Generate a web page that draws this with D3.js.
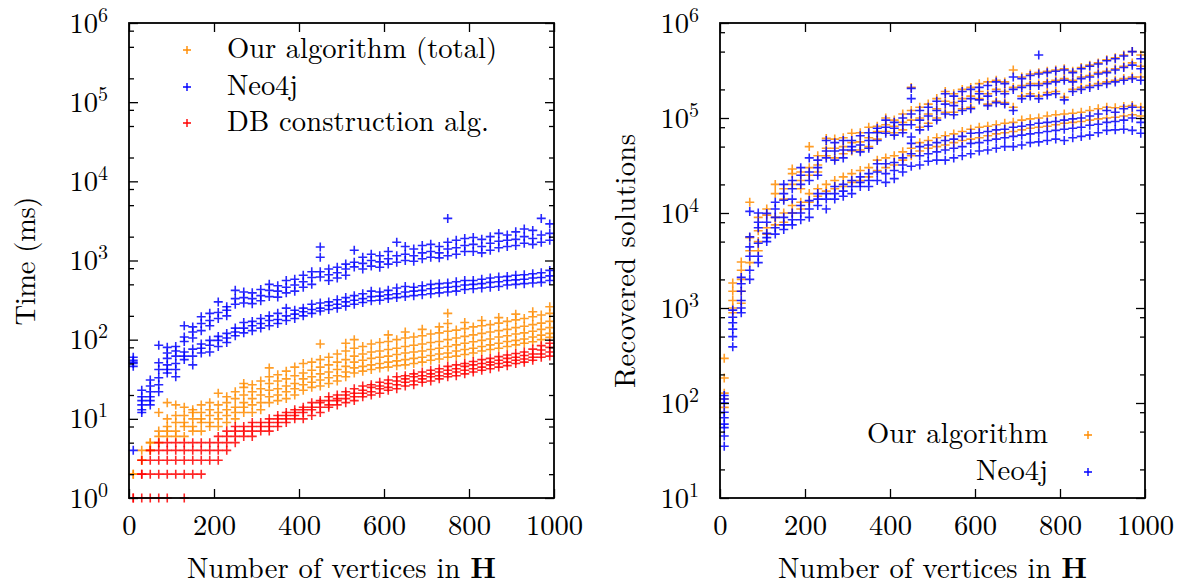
<!DOCTYPE html>
<html>
<head>
<meta charset="utf-8">
<script src="https://cdn.jsdelivr.net/npm/d3@7"></script>
<style>
	body { margin: 0; background: #fff; }
</style>
</head>
<body>
<div id="chart-area"></div>
<script>
// Data
// ****
const sizes = [10, 30, 50, 70, 90, 110, 130, 150, 170, 190, 210, 230, 250, 270, 290, 310, 330, 350, 370, 390,
	410, 430, 450, 470, 490, 510, 530, 550, 570, 590, 610, 630, 650, 670, 690, 710, 730, 750, 770, 790,
	810, 830, 850, 870, 890, 910, 930, 950, 970, 990]

const xTicks = [0, 200, 400, 600, 800, 1000]

// time in ms, one row per size
const oursTime = [
	[2, 2], [3, 4, 3], [4, 5, 4, 5], [5, 6, 7, 12], [6, 7, 8, 10, 16],
	[6, 7, 9, 11, 15], [6, 8, 9, 11, 14], [7, 8, 10, 12, 13], [7, 9, 10, 12, 15], [8, 9, 11, 13, 16],
	[8, 10, 12, 15, 21], [9, 11, 13, 16, 19], [10, 12, 14, 18, 22], [12, 14, 16, 20, 25, 28], [12, 15, 18, 22, 27],
	[13, 16, 20, 24, 30], [16, 19, 23, 28, 34, 44], [17, 20, 24, 30, 36], [18, 22, 26, 32, 40], [20, 24, 28, 35, 45],
	[23, 27, 32, 38, 50], [25, 29, 34, 41, 52], [26, 31, 37, 45, 56, 88], [28, 33, 39, 48, 60], [30, 35, 42, 52, 66],
	[34, 39, 46, 56, 72, 90], [38, 44, 52, 62, 78, 100], [40, 46, 55, 66, 82], [42, 48, 58, 70, 88], [44, 50, 60, 72, 92],
	[45, 52, 62, 75, 95, 115], [47, 54, 65, 78, 100], [48, 56, 68, 82, 105, 125], [50, 58, 70, 85, 108], [52, 60, 72, 88, 112, 135],
	[55, 63, 75, 92, 118], [57, 66, 78, 95, 122, 145], [60, 68, 82, 100, 128, 160, 215], [62, 72, 86, 105, 132], [65, 75, 90, 110, 138, 165],
	[68, 78, 94, 115, 145], [72, 82, 98, 120, 150, 175], [75, 86, 102, 125, 155], [78, 90, 108, 130, 162, 190], [82, 95, 112, 135, 170],
	[86, 98, 118, 142, 178, 210], [90, 102, 122, 148, 185], [94, 108, 128, 155, 195, 225], [100, 114, 135, 162, 205], [107, 120, 142, 170, 215, 260]
]

const neo4jTime = [
	[60, 55, 52, 50, 46, 4], [23, 19, 17, 15, 13, 12], [31, 26, 22, 19, 17, 15], [85, 51, 42, 33, 27, 22], [80, 68, 58, 48, 42, 38],
	[82, 72, 62, 50, 42, 34], [150, 108, 95, 70, 62, 56], [145, 125, 105, 76, 62, 48], [195, 160, 130, 88, 78, 68], [215, 175, 150, 98, 85, 70],
	[300, 220, 185, 110, 98, 82], [260, 235, 200, 120, 105, 92], [420, 330, 280, 140, 125, 112], [400, 340, 290, 165, 140, 122], [390, 330, 285, 170, 150, 130],
	[430, 360, 310, 185, 160, 140], [500, 420, 350, 200, 175, 150], [480, 410, 345, 215, 180, 160], [560, 460, 390, 250, 200, 175], [580, 490, 410, 235, 210, 185],
	[650, 540, 460, 250, 225, 200], [720, 610, 500, 280, 240, 215], [1480, 1100, 720, 620, 290, 250, 230], [780, 660, 560, 300, 270, 240], [820, 700, 600, 320, 280, 250],
	[900, 780, 650, 340, 300, 265], [1350, 950, 830, 360, 315, 280], [1100, 920, 780, 380, 330, 295], [1200, 1000, 850, 410, 350, 310], [1150, 960, 820, 400, 355, 315],
	[1300, 1050, 900, 420, 370, 330], [1700, 1150, 950, 450, 380, 340], [1500, 1200, 1000, 470, 400, 350], [1400, 1150, 980, 460, 410, 360], [1550, 1250, 1050, 480, 420, 370],
	[1600, 1300, 1100, 500, 440, 380], [1500, 1250, 1080, 510, 450, 390], [3400, 1700, 1400, 1150, 520, 460, 400], [1800, 1450, 1200, 540, 470, 410], [1900, 1550, 1300, 560, 490, 430],
	[1950, 1600, 1300, 560, 500, 440], [1850, 1500, 1250, 580, 510, 450], [2000, 1650, 1350, 600, 530, 460], [2200, 1750, 1450, 620, 540, 470], [2100, 1800, 1500, 630, 560, 490],
	[2300, 1850, 1550, 650, 570, 500], [2500, 2000, 1650, 660, 580, 510], [2400, 1900, 1600, 680, 600, 520], [3400, 2100, 1700, 700, 610, 530], [2900, 2200, 1800, 750, 640, 560]
]

const dbTime = [
	[1, 1], [1, 2, 3, 2], [1, 2, 3, 4], [1, 2, 4, 5, 3], [1, 2, 3, 5, 4],
	[2, 3, 4, 5], [1, 2, 4, 5, 3], [2, 3, 5, 4], [2, 3, 4, 5], [3, 4, 5],
	[3, 4, 5, 6], [4, 5, 6, 7], [5, 6, 7, 8], [6, 7, 8], [6, 7, 8, 9],
	[7, 8, 9], [7, 8, 9, 10], [8, 9, 10, 11], [9, 10, 11, 12], [10, 11, 12, 13],
	[10, 12, 13, 14], [11, 13, 14, 16], [12, 14, 16, 17], [14, 15, 17, 19], [15, 17, 18, 20],
	[16, 18, 20, 22], [17, 19, 21, 24], [19, 21, 23, 26], [20, 22, 25, 27], [21, 24, 26, 29],
	[23, 25, 28, 31], [24, 27, 30, 34], [26, 29, 32, 35], [27, 30, 34, 37], [29, 32, 35, 39],
	[30, 34, 37, 41], [32, 35, 39, 43], [34, 37, 41, 46], [35, 39, 43, 48], [37, 41, 46, 50],
	[39, 43, 48, 53], [41, 45, 50, 56], [43, 48, 52, 58], [45, 50, 55, 61], [47, 52, 58, 64],
	[50, 55, 60, 67], [52, 57, 63, 70], [55, 60, 66, 76], [60, 66, 74, 84], [62, 70, 80, 90]
]

// recovered solutions, one row per size
const oursSolutions = [
	[295, 183, 127, 110, 90], [1830, 1500, 1200, 1000, 890], [3050, 2500, 2000, 1500, 1120], [13000, 5500, 4000, 3000], [9000, 6500, 5000, 4000],
	[11000, 9500, 7000, 6000], [20000, 16000, 9000, 7500], [18000, 14000, 10000, 8000], [29000, 26000, 20000, 12000, 10000], [27000, 22000, 18000, 13000, 11000],
	[50000, 30000, 25000, 16000, 13000], [40000, 32000, 27000, 18000, 15000], [61000, 48000, 40000, 20000, 17000], [60000, 48000, 38000, 22000, 18000], [62000, 50000, 42000, 24000, 19000],
	[69000, 55000, 45000, 26000, 21000], [70000, 56000, 46000, 28000, 22000], [80000, 62000, 50000, 30000, 24000], [82000, 72000, 60000, 36000, 28000], [100000, 85000, 72000, 38000, 30000],
	[95000, 82000, 70000, 40000, 32000], [110000, 90000, 75000, 44000, 36000], [210000, 120000, 95000, 48000, 40000], [130000, 100000, 80000, 55000, 45000], [140000, 110000, 88000, 58000, 48000],
	[160000, 125000, 100000, 62000, 50000], [190000, 150000, 115000, 65000, 52000], [180000, 145000, 115000, 68000, 55000], [200000, 160000, 125000, 72000, 58000], [210000, 170000, 130000, 76000, 60000],
	[230000, 190000, 160000, 80000, 62000], [240000, 180000, 140000, 82000, 65000], [250000, 200000, 150000, 85000, 68000], [240000, 190000, 145000, 88000, 70000], [320000, 210000, 130000, 90000, 72000],
	[270000, 220000, 170000, 95000, 75000], [290000, 230000, 180000, 98000, 78000], [300000, 230000, 170000, 100000, 80000], [310000, 240000, 185000, 105000, 82000], [320000, 250000, 190000, 108000, 85000],
	[330000, 260000, 165000, 110000, 88000], [310000, 250000, 200000, 112000, 90000], [340000, 270000, 210000, 115000, 92000], [360000, 280000, 220000, 120000, 95000], [380000, 300000, 230000, 125000, 98000],
	[410000, 310000, 240000, 130000, 100000], [430000, 330000, 250000, 128000, 102000], [460000, 350000, 260000, 132000, 105000], [500000, 380000, 270000, 135000, 108000], [460000, 350000, 270000, 130000, 105000]
]

const neo4jSolutions = [
	[120, 110, 100, 80, 70, 60, 55, 45, 35], [950, 800, 700, 600, 500, 390], [2100, 1800, 1500, 1200, 1000, 890], [10400, 5600, 4400, 3500, 2500, 2000], [10000, 8000, 7000, 4800, 3500, 3000],
	[9900, 8000, 6100, 5500, 5000], [13000, 11000, 9000, 7000, 6000], [20000, 16000, 13600, 9000, 7500, 6700], [22000, 18000, 14000, 10000, 8500, 7500], [30000, 25000, 20000, 12000, 10000, 8500],
	[38000, 27000, 22000, 13500, 11000, 9000], [36000, 30000, 25000, 16000, 14000, 12000], [58000, 45000, 38000, 16000, 14000, 11000], [55000, 45000, 36000, 19000, 16000, 14000], [58000, 46000, 38000, 20000, 17000, 15000],
	[58000, 50000, 46000, 22000, 19000, 16000], [65000, 52000, 44000, 24000, 21000, 19000], [70000, 58000, 48000, 26000, 22000, 19000], [78000, 70000, 58000, 33000, 27000, 22000], [95000, 80000, 69000, 33000, 26000, 21000],
	[90000, 78000, 66000, 34000, 28000, 23000], [100000, 85000, 70000, 38000, 32000, 27000], [205000, 160000, 110000, 85000, 63000, 54000, 42000, 31000], [120000, 95000, 75000, 50000, 40000, 32000], [130000, 105000, 82000, 52000, 42000, 35000],
	[150000, 120000, 95000, 55000, 44000, 36000], [180000, 140000, 110000, 58000, 46000, 36000], [170000, 135000, 108000, 60000, 48000, 38000], [190000, 150000, 120000, 64000, 50000, 40000], [200000, 160000, 125000, 69000, 54000, 42000],
	[210000, 180000, 155000, 70000, 55000, 45000], [220000, 170000, 135000, 72000, 58000, 46000], [240000, 190000, 145000, 75000, 60000, 48000], [230000, 180000, 140000, 76000, 62000, 50000], [270000, 200000, 120000, 80000, 64000, 50000],
	[260000, 210000, 160000, 82000, 66000, 52000], [280000, 220000, 170000, 85000, 68000, 55000], [460000, 290000, 220000, 160000, 88000, 70000, 56000], [300000, 230000, 175000, 90000, 72000, 58000], [310000, 240000, 180000, 92000, 74000, 60000],
	[320000, 250000, 155000, 95000, 76000, 58000], [300000, 240000, 190000, 98000, 78000, 62000], [330000, 260000, 200000, 100000, 80000, 64000], [350000, 270000, 210000, 105000, 84000, 66000], [370000, 290000, 220000, 110000, 86000, 70000],
	[400000, 300000, 230000, 120000, 90000, 74000], [420000, 320000, 240000, 115000, 92000, 75000], [450000, 340000, 250000, 125000, 95000, 76000], [500000, 360000, 260000, 130000, 100000, 74000], [420000, 330000, 250000, 120000, 90000, 69000]
]

// Config
// ******
const width = 1186, height = 588
const plotTop = 23, plotBottom = 498, plotWidth = 425
const fontStack = "'Latin Modern Roman', 'Liberation Serif', monospace"
const fontSize = 28.6
const colors = {ours: "#ff8c00", neo4j: "#0000ff", db: "#ff0000"}
const cross = "M-4.5,0H4.5M0,-4.5V4.5"

const svg = d3.select("#chart-area")
	.append("svg")
		.attr("width", width)
		.attr("height", height)
		.style("font-family", fontStack)
		.style("font-size", fontSize + "px")

svg.append("rect").attr("width", width).attr("height", height).attr("fill", "#fff")

// Panels
// ******
drawPanel({
	left: 129,
	yMin: 0,
	series: [
		{rows: oursTime, color: colors.ours},
		{rows: neo4jTime, color: colors.neo4j},
		{rows: dbTime, color: colors.db}
	],
	yLabel: "Time (ms)", yLabelWidth: 129, yLabelX: 35
})

drawPanel({
	left: 720,
	yMin: 1,
	series: [
		{rows: oursSolutions, color: colors.ours},
		{rows: neo4jSolutions, color: colors.neo4j}
	],
	yLabel: "Recovered solutions", yLabelWidth: 254, yLabelX: 635
})

// Legends
// *******
legend([
	{label: "Our algorithm (total)", color: colors.ours, w: 270},
	{label: "Neo4j", color: colors.neo4j, w: 71},
	{label: "DB construction alg.", color: colors.db, w: 262}
], 187, 227, "start", [50, 87, 123])

legend([
	{label: "Our algorithm", color: colors.ours, w: 181},
	{label: "Neo4j", color: colors.neo4j, w: 72}
], 1088, 1048, "end", [435, 472])

// Draw one panel
// **************
function drawPanel(p) {
	const right = p.left + plotWidth
	const x = d3.scaleLinear().domain([0, 1000]).range([p.left, right])
	const y = d3.scaleLog().domain([10 ** p.yMin, 1e6]).range([plotBottom, plotTop])

	const major = d3.range(p.yMin, 7).map(e => 10 ** e)
	const minor = []
	d3.range(p.yMin, 6).forEach(e => [2, 5, 8].forEach(k => minor.push(k * 10 ** e)))

	// Points
	const g = svg.append("g")
	p.series.forEach(s => {
		const pts = sizes.flatMap((n, i) => s.rows[i].map(v => ({n, v})))
		g.append("g").selectAll("path").data(pts).enter().append("path")
			.attr("d", cross)
			.attr("transform", d => "translate(" + x(d.n) + "," + y(d.v) + ")")
			.attr("stroke", s.color)
			.attr("stroke-width", 1.6)
			.attr("fill", "none")
			.attr("opacity", 0.85)
	})

	// Axes
	const yLeft = g.append("g").attr("transform", "translate(" + p.left + ",0)")
		.call(d3.axisLeft(y).tickValues(major).tickSize(-9).tickPadding(21).tickFormat(() => ""))
	yLeft.selectAll(".tick text").each(function(d) {
		const t = d3.select(this)
		t.append("tspan").text("10")
		t.append("tspan").attr("dy", -11).style("font-size", "20px").text(Math.round(Math.log10(d)))
	})
	g.append("g").attr("transform", "translate(" + p.left + ",0)")
		.call(d3.axisLeft(y).tickValues(minor).tickSize(-5).tickFormat(""))
	g.append("g").attr("transform", "translate(" + right + ",0)")
		.call(d3.axisRight(y).tickValues(major).tickSize(-9).tickFormat(""))
	g.append("g").attr("transform", "translate(" + right + ",0)")
		.call(d3.axisRight(y).tickValues(minor).tickSize(-5).tickFormat(""))
	g.append("g").attr("transform", "translate(0," + plotBottom + ")")
		.call(d3.axisBottom(x).tickValues(xTicks).tickSize(-9).tickPadding(17).tickFormat(d => String(d)))
	g.append("g").attr("transform", "translate(0," + plotTop + ")")
		.call(d3.axisTop(x).tickValues(xTicks).tickSize(-9).tickFormat(""))

	g.selectAll(".domain").remove()
	g.selectAll(".tick line").attr("stroke", "#000").attr("stroke-width", 1.3)
	g.selectAll(".tick text")
		.style("font-family", fontStack)
		.style("font-size", fontSize + "px")
		.attr("fill", "#000")

	g.append("rect")
		.attr("x", p.left).attr("y", plotTop)
		.attr("width", plotWidth).attr("height", plotBottom - plotTop)
		.attr("fill", "none").attr("stroke", "#000").attr("stroke-width", 1.8)

	// Labels
	const xl = g.append("text")
		.attr("x", (p.left + right) / 2).attr("y", 578)
		.attr("text-anchor", "middle")
		.attr("textLength", 309).attr("lengthAdjust", "spacing")
	xl.append("tspan").text("Number of vertices in ")
	xl.append("tspan").style("font-weight", "bold").text("H")

	g.append("text")
		.attr("transform", "translate(" + p.yLabelX + ",261) rotate(-90)")
		.attr("text-anchor", "middle")
		.attr("textLength", p.yLabelWidth).attr("lengthAdjust", "spacing")
		.text(p.yLabel)
}

// Legend
// ******
function legend(items, markX, textX, anchor, rows) {
	items.forEach((d, i) => {
		svg.append("path")
			.attr("d", "M-4,0H4M0,-4V4")
			.attr("transform", "translate(" + markX + "," + rows[i] + ")")
			.attr("stroke", d.color).attr("stroke-width", 1.4)
		svg.append("text")
			.attr("x", textX).attr("y", rows[i] + 8)
			.attr("text-anchor", anchor)
			.attr("textLength", d.w).attr("lengthAdjust", "spacing")
			.text(d.label)
	})
}
</script>
</body>
</html>
